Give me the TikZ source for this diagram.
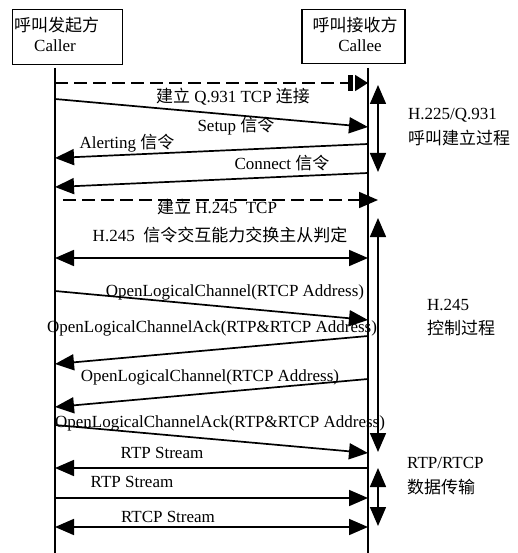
\documentclass[tikz,border=0pt]{standalone}
\usepackage{fontspec}
\setmainfont{Liberation Serif}
\newfontfamily\cjk{Noto Sans CJK SC}
\usetikzlibrary{arrows.meta}
\begin{document}
\begin{tikzpicture}[x=1pt,y=-1pt,
  tipend/.style={-{Triangle[length=19pt,width=16pt]}},
  dtip/.style={{Triangle[length=19pt,width=16pt]}-{Triangle[length=19pt,width=16pt]}},
  msg/.style={line width=1.7pt, tipend},
  dmsg/.style={line width=1.7pt, dtip},
  dashmsg/.style={line width=1.7pt, dash pattern=on 13pt off 6pt},
  life/.style={line width=1.6pt},
  box/.style={draw, line width=1.6pt, inner sep=0pt},
  lbl/.style={font=\fontsize{17}{19}\selectfont, inner sep=0pt},
  blbl/.style={font=\fontsize{17}{19}\selectfont, inner sep=0pt},
  side/.style={font=\fontsize{17}{19}\selectfont, inner sep=0pt, anchor=west}
]
\useasboundingbox (0,0) rectangle (518,553);

% boxes
\node[box, minimum width=110pt, minimum height=55pt] (caller) at (67.5,37) {};
\node[box, minimum width=103pt, minimum height=54pt] (callee) at (353.5,36.5) {};
\node[blbl, anchor=west] (callerzh) at (14,25) {\cjk 呼叫发起方};
\node[blbl] (calleren) at (55,46) {Caller};
\node[blbl] (calleezh) at (355,25) {\cjk 呼叫接收方};
\node[blbl] (calleeen) at (360,46) {Callee};

% lifelines
\coordinate (Ltop) at (55,68);
\coordinate (Lbot) at (55,553);
\coordinate (Rtop) at (368,68);
\coordinate (Rbot) at (368,553);
\draw[life] (Ltop) -- (Lbot);
\draw[life] (Rtop) -- (Rbot);

% message end points
\coordinate (a1) at (55,83);   \coordinate (b1) at (368,83);
\coordinate (a2) at (55,99);   \coordinate (b2) at (368,127);
\coordinate (b3) at (368,144); \coordinate (a3) at (55,158);
\coordinate (b4) at (368,173); \coordinate (a4) at (55,187);
\coordinate (a5) at (63,200);  \coordinate (b5) at (378,200);
\coordinate (a6) at (55,258);  \coordinate (b6) at (368,258);
\coordinate (a7) at (55,291);  \coordinate (b7) at (368,320);
\coordinate (b8) at (368,336); \coordinate (a8) at (55,364);
\coordinate (b9) at (368,379); \coordinate (a9) at (55,407);
\coordinate (a10) at (55,425); \coordinate (b10) at (368,453);
\coordinate (b11) at (368,468); \coordinate (a11) at (55,468);
\coordinate (a12) at (55,498); \coordinate (b12) at (368,498);
\coordinate (a13) at (55,527); \coordinate (b13) at (368,527);

% messages
\draw[dashmsg, -{Rectangle[length=5pt,width=16pt,sep=2pt]Triangle[length=13pt,width=16pt]}] (a1) -- (b1);
\draw[msg] (a2) -- (b2);
\draw[msg] (b3) -- (a3);
\draw[msg] (b4) -- (a4);
\draw[dashmsg, tipend] (a5) -- (b5);
\draw[dmsg] (a6) -- (b6);
\draw[msg] (a7) -- (b7);
\draw[msg] (b8) -- (a8);
\draw[msg] (b9) -- (a9);
\draw[msg] (a10) -- (b10);
\draw[msg] (b11) -- (a11);
\draw[msg] (a12) -- (b12);
\draw[dmsg] (a13) -- (b13);

% phase bars
\coordinate (p1a) at (378,85);  \coordinate (p1b) at (378,172);
\coordinate (p2a) at (378,218); \coordinate (p2b) at (378,452);
\coordinate (p3a) at (378,468); \coordinate (p3b) at (378,526);
\draw[dmsg, line width=1.5pt] (p1b) -- (p1a);
\draw[dmsg, line width=1.5pt] (p2b) -- (p2a);
\draw[dmsg, line width=1.5pt] (p3b) -- (p3a);

% labels
\node[lbl] (l1) at (233,97) {{\cjk 建立} Q.931 TCP {\cjk 连接}};
\node[lbl] (l2) at (236,126) {Setup {\cjk 信令}};
\node[lbl] (l3) at (127,143) {Alerting {\cjk 信令}};
\node[lbl] (l4) at (282,163) {Connect {\cjk 信令}};
\node[lbl] (l5) at (217,207) {{\cjk 建立} H.245\ \ TCP};
\node[lbl] (l6) at (220,235) {H.245\ \ {\cjk 信令交互能力交换主从判定}};
\node[lbl] (l7) at (235,292) {OpenLogicalChannel(RTCP Address)};
\node[lbl] (l8) at (212,328) {OpenLogicalChannelAck(RTP\&RTCP Address)};
\node[lbl] (l9) at (210,377) {OpenLogicalChannel(RTCP Address)};
\node[lbl] (l10) at (220,423) {OpenLogicalChannelAck(RTP\&RTCP Address)};
\node[lbl] (l11) at (162,453) {RTP Stream};
\node[lbl] (l12) at (132,482) {RTP Stream};
\node[lbl] (l13) at (168,517) {RTCP Stream};

% side labels
\node[side] (s1) at (408,115) {H.225/Q.931};
\node[side] (s2) at (408,138) {\cjk 呼叫建立过程};
\node[side] (s3) at (427,305) {H.245};
\node[side] (s4) at (427,328) {\cjk 控制过程};
\node[side] (s5) at (407,463) {RTP/RTCP};
\node[side] (s6) at (407,487) {\cjk 数据传输};
\end{tikzpicture}
\end{document}
